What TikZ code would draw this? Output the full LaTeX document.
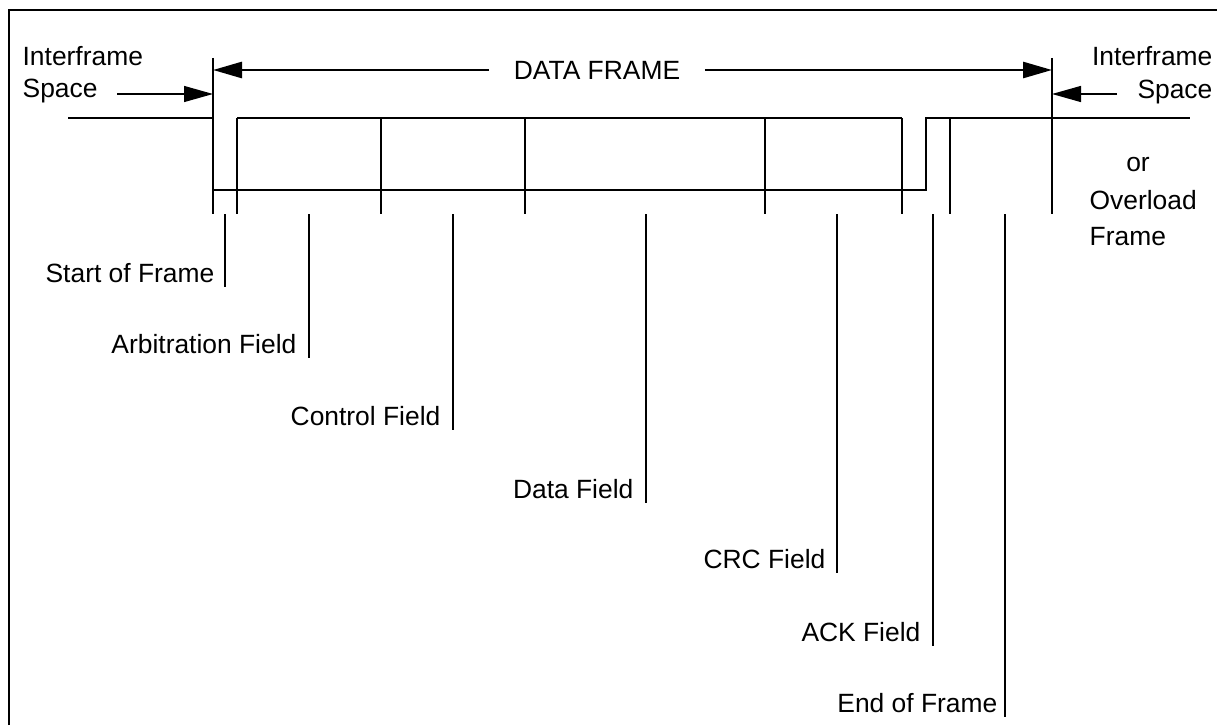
\documentclass[tikz,border=0pt]{standalone}
\usepackage{fontspec}
\setmainfont{Liberation Sans}
\usetikzlibrary{arrows.meta}

\begin{document}
\begin{tikzpicture}[x=1pt, y=-1pt, line width=1.3pt,
        every node/.style={font=\fontsize{26.4}{31}\selectfont, inner sep=0pt},
        fieldname/.style={anchor=base east},
        tip/.style={-{Triangle[length=29pt,width=16pt]}},
        heavy/.style={line width=2.7pt}]

    \useasboundingbox (0,0) rectangle (1217,725);
    \draw[heavy] (9,725) -- (9,10) -- (1217,10);

    % frame limits
    \coordinate (sofL) at (213,58);
    \coordinate (ifsR) at (1052,58);

    % data frame arrow
    \node[inner xsep=24pt] (title) at (597,70) {DATA FRAME};
    \draw[heavy, tip] (title.west) -- (sofL |- title.west);
    \draw[heavy, tip] (title.east) -- (ifsR |- title.east);

    % interframe space
    \node[anchor=base west] (ifs1) at (22,66) {Interframe};
    \node[anchor=base west] (ifs2) at (22,97) {Space};
    \node[anchor=base east] (ifs3) at (1213,66) {Interframe};
    \node[anchor=base east] (ifs4) at (1213,98) {Space};
    \coordinate (ifsL) at (117,94);
    \coordinate (ifsRR) at (1117,94);
    \draw[tip] (ifsL) -- (sofL |- ifsL);
    \draw[tip] (ifsRR) -- (ifsR |- ifsRR);

    \node (or) at (1138,165) {or};
    \node[anchor=base west] (ovl) at (1089,209) {Overload};
    \node[anchor=base west] (ovf) at (1089,245) {Frame};

    % bus level
    \draw (68,118) -- (213,118);
    \draw (213,190) -- (926,190) -- (926,118) -- (1190,118);
    \draw (237,118) -- (902,118);

    % field borders
    \draw (sofL) -- (213,214);
    \draw (ifsR) -- (1052,214);
    \draw (237,118) -- (237,214);
    \draw (381,118) -- (381,214);
    \draw (525,118) -- (525,214);
    \draw (765,118) -- (765,214);
    \draw (902,118) -- (902,214);
    \draw (950,118) -- (950,214);

    % field names
    \coordinate (sof) at (225,214);
    \coordinate (arb) at (309,214);
    \coordinate (ctl) at (453,214);
    \coordinate (dat) at (646,214);
    \coordinate (crc) at (837,214);
    \coordinate (ack) at (933,214);
    \coordinate (eof) at (1005,214);

    \node[fieldname] (nsof) at (215,282) {Start of Frame};
    \node[fieldname] (narb) at (297,353) {Arbitration Field};
    \node[fieldname] (nctl) at (441,425) {Control Field};
    \node[fieldname] (ndat) at (634,498) {Data Field};
    \node[fieldname] (ncrc) at (826,568) {CRC Field};
    \node[fieldname] (nack) at (921,641) {ACK Field};
    \node[fieldname] (neof) at (998,712) {End of Frame};

    \draw (sof) -- ([yshift=-5pt] sof |- nsof.base);
    \draw (arb) -- ([yshift=-5pt] arb |- narb.base);
    \draw (ctl) -- ([yshift=-5pt] ctl |- nctl.base);
    \draw (dat) -- ([yshift=-5pt] dat |- ndat.base);
    \draw (crc) -- ([yshift=-5pt] crc |- ncrc.base);
    \draw (ack) -- ([yshift=-5pt] ack |- nack.base);
    \draw (eof) -- ([yshift=-5pt] eof |- neof.base);
\end{tikzpicture}
\end{document}
